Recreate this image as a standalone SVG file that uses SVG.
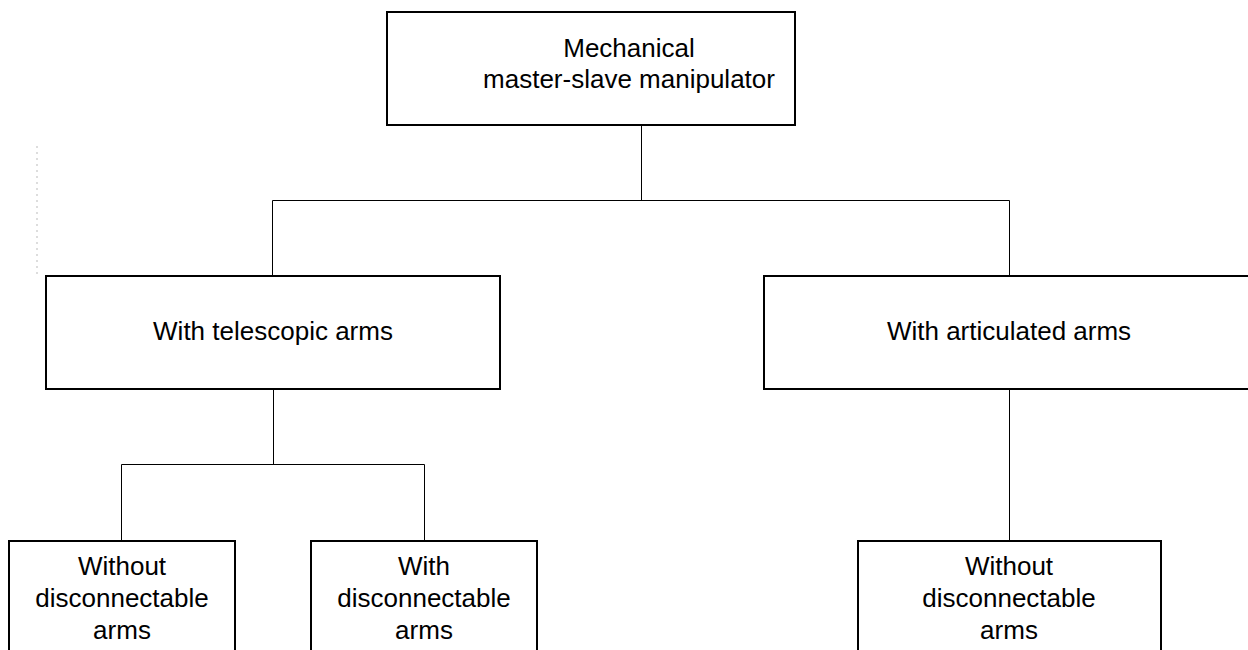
<svg xmlns="http://www.w3.org/2000/svg" width="1248" height="650" viewBox="0 0 1248 650">
<style>
.box{fill:#fff;stroke:#000;stroke-width:2}
.lbl{font-family:"Liberation Sans",Arial,sans-serif;font-size:26px;fill:#000;text-anchor:middle}
.conn{fill:none;stroke:#000;stroke-width:1}
</style>
<rect width="1248" height="650" fill="#fff"/>
<line x1="37" y1="146" x2="37" y2="274" stroke="#bbb" stroke-width="1" stroke-dasharray="2,4"/>
<g id="connectors" class="conn">
<path d="M641.5 125V200.5M272.5 200.5H1009.5M272.5 200.5V276M1009.5 200.5V276"/>
<path d="M273.5 389V464.5M121.5 464.5H424.5M121.5 464.5V541M424.5 464.5V541"/>
<path d="M1009.5 389V541"/>
</g>
<g id="root">
<rect class="box" x="387" y="12" width="408" height="113"/>
<text class="lbl" x="629" y="57">Mechanical</text>
<text class="lbl" x="629" y="88">master-slave manipulator</text>
</g>
<g id="telescopic">
<rect class="box" x="46" y="276" width="454" height="113"/>
<text class="lbl" x="273" y="340">With telescopic arms</text>
</g>
<g id="articulated">
<rect class="box" x="764" y="276" width="490" height="113"/>
<text class="lbl" x="1009" y="340">With articulated arms</text>
</g>
<g id="tele-without">
<rect class="box" x="9" y="541" width="226" height="120"/>
<text class="lbl" x="122" y="575">Without</text>
<text class="lbl" x="122" y="607">disconnectable</text>
<text class="lbl" x="122" y="639">arms</text>
</g>
<g id="tele-with">
<rect class="box" x="311" y="541" width="226" height="120"/>
<text class="lbl" x="424" y="575">With</text>
<text class="lbl" x="424" y="607">disconnectable</text>
<text class="lbl" x="424" y="639">arms</text>
</g>
<g id="art-without">
<rect class="box" x="858" y="541" width="303" height="120"/>
<text class="lbl" x="1009" y="575">Without</text>
<text class="lbl" x="1009" y="607">disconnectable</text>
<text class="lbl" x="1009" y="639">arms</text>
</g>
</svg>
